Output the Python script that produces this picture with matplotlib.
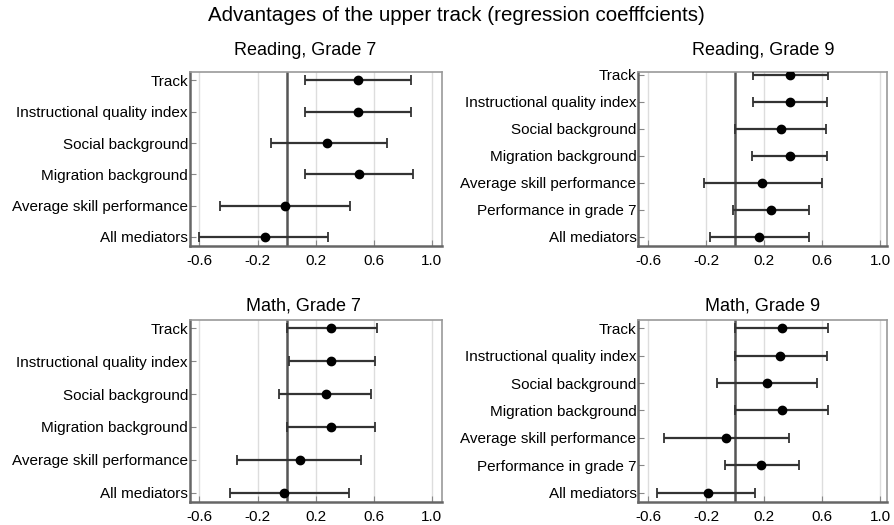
import matplotlib.pyplot as plt
import numpy as np

plt.rcParams['font.family'] = ['Liberation Sans', 'DejaVu Sans']

# row labels
labels_g7 = ['Track', 'Instructional quality index', 'Social background',
             'Migration background', 'Average skill performance', 'All mediators']
labels_g9 = ['Track', 'Instructional quality index', 'Social background',
             'Migration background', 'Average skill performance',
             'Performance in grade 7', 'All mediators']

# Reading, Grade 7
read7_est = [0.49, 0.49, 0.28, 0.50, -0.01, -0.15]
read7_lo = [0.13, 0.13, -0.11, 0.13, -0.46, -0.60]
read7_hi = [0.855, 0.855, 0.69, 0.87, 0.44, 0.285]

# Reading, Grade 9
read9_est = [0.375, 0.375, 0.315, 0.375, 0.185, 0.245, 0.165]
read9_lo = [0.12, 0.125, 0.0, 0.115, -0.215, -0.015, -0.17]
read9_hi = [0.64, 0.635, 0.625, 0.635, 0.60, 0.505, 0.505]

# Math, Grade 7
math7_est = [0.305, 0.305, 0.27, 0.305, 0.09, -0.02]
math7_lo = [0.005, 0.015, -0.05, 0.005, -0.34, -0.39]
math7_hi = [0.62, 0.61, 0.58, 0.61, 0.515, 0.43]

# Math, Grade 9
math9_est = [0.32, 0.31, 0.22, 0.32, -0.065, 0.18, -0.19]
math9_lo = [0.0, 0.0, -0.125, 0.0, -0.49, -0.07, -0.535]
math9_hi = [0.64, 0.63, 0.56, 0.64, 0.37, 0.44, 0.135]

xticks = [-0.6, -0.2, 0.2, 0.6, 1.0]

fig = plt.figure(figsize=(8.94, 5.25), dpi=100)
fig.text(0.51, 0.971, 'Advantages of the upper track (regression coefffcients)',
         ha='center', va='center', fontsize=14.8)

panels = [
    ('Reading, Grade 7', labels_g7, read7_est, read7_lo, read7_hi,
     [0.2125, 0.532, 0.2819, 0.3314], (-0.665, 1.07), (5.28, -0.28), 12, 0.455),
    ('Reading, Grade 9', labels_g9, read9_est, read9_lo, read9_hi,
     [0.7142, 0.532, 0.278, 0.3314], (-0.665, 1.045), (6.33, -0.12), 12, 0.5),
    ('Math, Grade 7', labels_g7, math7_est, math7_lo, math7_hi,
     [0.2125, 0.0444, 0.2819, 0.3461], (-0.665, 1.07), (5.27, -0.25), 6.5, 0.45),
    ('Math, Grade 9', labels_g9, math9_est, math9_lo, math9_hi,
     [0.7142, 0.0444, 0.278, 0.3461], (-0.665, 1.045), (6.33, -0.3), 6.5, 0.5),
]

for title, labels, est, lo, hi, pos, xlim, ylim, pad, tx in panels:
    ax = fig.add_axes(pos)
    est = np.array(est)
    y = np.arange(len(labels))
    err = [est - np.array(lo), np.array(hi) - est]
    for t in xticks:
        ax.axvline(t, color='#dddddd', lw=1, zorder=0)
    ax.axvline(0, color='#555555', lw=1.8, zorder=1)
    ax.errorbar(est, y, xerr=err, fmt='o', color='black', ms=6,
                ecolor='#333333', elinewidth=1.6, capsize=3.5, capthick=1.3, zorder=3)
    ax.set_xlim(*xlim)
    ax.set_ylim(*ylim)
    ax.set_yticks(y)
    ax.set_yticklabels(labels, fontsize=11)
    ax.set_xticks(xticks)
    ax.set_xticklabels(['-0.6', '-0.2', '0.2', '0.6', '1.0'], fontsize=11)
    ax.tick_params(axis='y', direction='in', length=4, color='#888888', pad=1.5)
    ax.tick_params(axis='x', direction='in', length=4, color='#888888', pad=6)
    ax.set_title(title, fontsize=13, pad=pad, x=tx)
    for s in ['left', 'bottom']:
        ax.spines[s].set_color('#666666')
        ax.spines[s].set_linewidth(1.8)
    for s in ['top', 'right']:
        ax.spines[s].set_color('#999999')
        ax.spines[s].set_linewidth(1.2)

fig.savefig('out.png', dpi=100)
